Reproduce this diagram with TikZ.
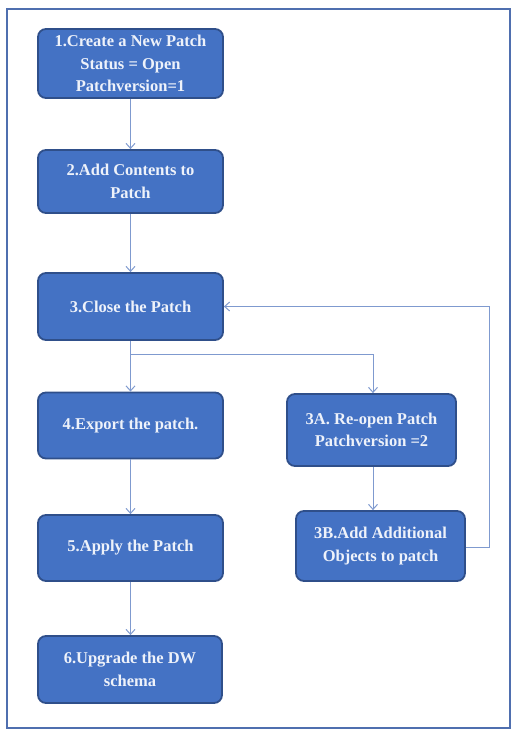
\documentclass[tikz,border=0pt]{standalone}
\usepackage{fontspec}
\setmainfont{Liberation Serif}
\usetikzlibrary{arrows.meta}
\definecolor{boxfill}{HTML}{4472C4}
\definecolor{boxedge}{HTML}{2F4F8A}
\definecolor{frameblue}{HTML}{4F6FAF}
\definecolor{linkblue}{HTML}{7F9ACF}
\definecolor{txt}{HTML}{EEF2FA}
\begin{document}
\begin{tikzpicture}[x=1pt,y=-1pt,
  stepbox/.style={draw=boxedge,fill=boxfill,line width=1.8pt,rounded corners=8pt,
    text=txt,font=\fontsize{16.5}{22.5}\selectfont\bfseries,align=center,inner sep=0pt},
  link/.style={draw=linkblue,line width=1pt,-{Straight Barb[length=5pt,width=9pt]}},
  seg/.style={draw=linkblue,line width=1pt}]
\useasboundingbox (0,0) rectangle (517,741);
\draw[frameblue,line width=2pt] (7,9) rectangle (510,728);
\node[stepbox,minimum width=185pt,minimum height=69pt] (n1) at (130.5,63.5) {1.Create a New Patch\\Status = Open\\Patchversion=1};
\node[stepbox,minimum width=185pt,minimum height=63pt] (n2) at (130.5,181.5) {2.Add Contents to\\Patch};
\node[stepbox,minimum width=185pt,minimum height=67pt] (n3) at (130.5,306.5) {3.Close the Patch};
\node[stepbox,minimum width=185pt,minimum height=66pt] (n4) at (130.5,425.5) {4.Export the patch.};
\node[stepbox,minimum width=185pt,minimum height=66pt] (n5) at (130.5,548) {5.Apply the Patch};
\node[stepbox,minimum width=184pt,minimum height=67pt] (n6) at (130,669.5) {6.Upgrade the DW\\schema};
\node[stepbox,minimum width=169pt,minimum height=72pt] (n3a) at (371.5,430) {3A. Re-open Patch\\Patchversion =2};
\node[stepbox,minimum width=169pt,minimum height=70pt] (n3b) at (380.5,546) {3B.Add Additional\\Objects to patch};
\coordinate (br) at (130.5,354);
\coordinate (brr) at (373,354);
\coordinate (rt) at (489,547);
\coordinate (rtop) at (489,306.5);
\draw[link] (n1) -- (n2);
\draw[link] (n2) -- (n3);
\draw[link] (n3) -- (n4);
\draw[link] (n4) -- (n5);
\draw[link] (n5.south) -- (n6.north -| n5.south);
\draw[seg] (br) -- (brr);
\draw[link] (brr) -- (n3a.north -| brr);
\draw[link] (n3a.south -| brr) -- (n3b.north -| brr);
\draw[link] (n3b.east |- rt) -- (rt) -- (rtop) -- (n3.east);
\end{tikzpicture}
\end{document}
